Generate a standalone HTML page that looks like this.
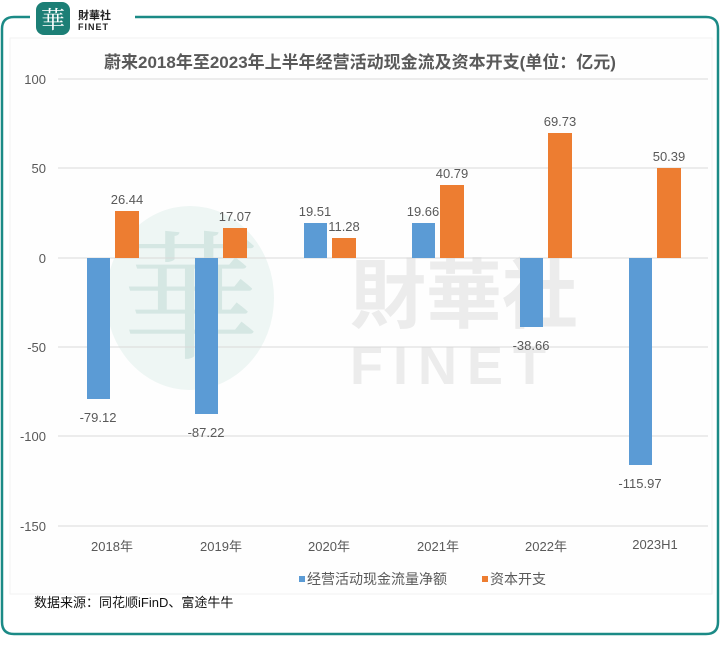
<!DOCTYPE html>
<html><head><meta charset="utf-8"><style>
body{margin:0;background:#fff;}
svg{display:block;font-family:"Liberation Sans","Noto Sans CJK SC",sans-serif;}
</style></head><body>
<svg width="720" height="651" viewBox="0 0 720 651" xmlns="http://www.w3.org/2000/svg">
<rect width="720" height="651" fill="#fff"/>
<path d="M30 17 H14 Q2 17 2 29 V622 Q2 634 14 634 H706 Q718 634 718 622 V29 Q718 17 706 17 H135" fill="none" stroke="#1b8a86" stroke-width="2.5"/>
<rect x="10" y="38" width="702" height="556" fill="#fefefe" stroke="#f2f2f2"/>
<!-- logo -->
<rect x="36" y="2" width="34" height="33" rx="8" fill="#1c7f76"/>
<text x="53" y="28" font-size="24" fill="#fff" text-anchor="middle" font-family="Noto Serif CJK SC,serif">華</text>
<text x="78" y="19" font-size="11" font-weight="bold" fill="#222">財華社</text>
<text x="78" y="30" font-size="9" font-weight="bold" fill="#222" letter-spacing="1">FINET</text>
<!-- watermark -->
<ellipse cx="190" cy="298" rx="84" ry="92" fill="#e3f0ed" opacity="0.6"/>
<text x="190" y="348" font-size="140" fill="#d5e7e3" text-anchor="middle" font-family="Noto Serif CJK SC,serif">華</text>
<text x="350" y="322" font-size="76" fill="#ececec" font-weight="bold">財華社</text>
<text x="350" y="384" font-size="54" fill="#ececec" font-weight="bold" letter-spacing="10">FINET</text>
<text x="360" y="68" font-size="17" font-weight="bold" fill="#595959" text-anchor="middle">蔚来2018年至2023年上半年经营活动现金流及资本开支(单位：亿元)</text>
<g stroke="#d9d9d9" stroke-width="1">
<line x1="58" y1="79" x2="708" y2="79"/><line x1="58" y1="168" x2="708" y2="168"/>
<line x1="58" y1="258" x2="708" y2="258"/><line x1="58" y1="347" x2="708" y2="347"/>
<line x1="58" y1="436" x2="708" y2="436"/><line x1="58" y1="526" x2="708" y2="526"/>
</g>
<g font-size="13" fill="#595959" text-anchor="end">
<text x="46" y="84">100</text><text x="46" y="173">50</text><text x="46" y="263">0</text>
<text x="46" y="352">-50</text><text x="46" y="441">-100</text><text x="46" y="531">-150</text>
</g>
<g fill="#5b9bd5">
<rect x="87" y="258" width="23" height="141"/>
<rect x="195" y="258" width="23" height="156"/>
<rect x="304" y="223" width="23" height="35"/>
<rect x="412" y="223" width="23" height="35"/>
<rect x="520" y="258" width="23" height="69"/>
<rect x="629" y="258" width="23" height="207"/>
</g>
<g fill="#ed7d31">
<rect x="115" y="211" width="24" height="47"/>
<rect x="223" y="228" width="24" height="30"/>
<rect x="332" y="238" width="24" height="20"/>
<rect x="440" y="185" width="24" height="73"/>
<rect x="548" y="133" width="24" height="125"/>
<rect x="657" y="168" width="24" height="90"/>
</g>
<g font-size="13" fill="#595959" text-anchor="middle">
<text x="98" y="422">-79.12</text><text x="127" y="204">26.44</text>
<text x="206" y="437">-87.22</text><text x="235" y="221">17.07</text>
<text x="315" y="216">19.51</text><text x="344" y="231">11.28</text>
<text x="423" y="216">19.66</text><text x="452" y="178">40.79</text>
<text x="531" y="350">-38.66</text><text x="560" y="126">69.73</text>
<text x="640" y="488">-115.97</text><text x="669" y="161">50.39</text>
</g>
<g font-size="13" fill="#595959" text-anchor="middle">
<text x="112" y="551">2018年</text><text x="221" y="551">2019年</text><text x="329" y="551">2020年</text>
<text x="438" y="551">2021年</text><text x="546" y="551">2022年</text><text x="655" y="549">2023H1</text>
</g>
<rect x="299" y="576" width="6" height="6" fill="#5b9bd5"/>
<text x="307" y="584" font-size="14" fill="#595959">经营活动现金流量净额</text>
<rect x="482" y="576" width="6" height="6" fill="#ed7d31"/>
<text x="490" y="584" font-size="14" fill="#595959">资本开支</text>
<text x="34" y="607" font-size="13" fill="#111">数据来源：同花顺iFinD、富途牛牛</text>
</svg>
</body></html>
